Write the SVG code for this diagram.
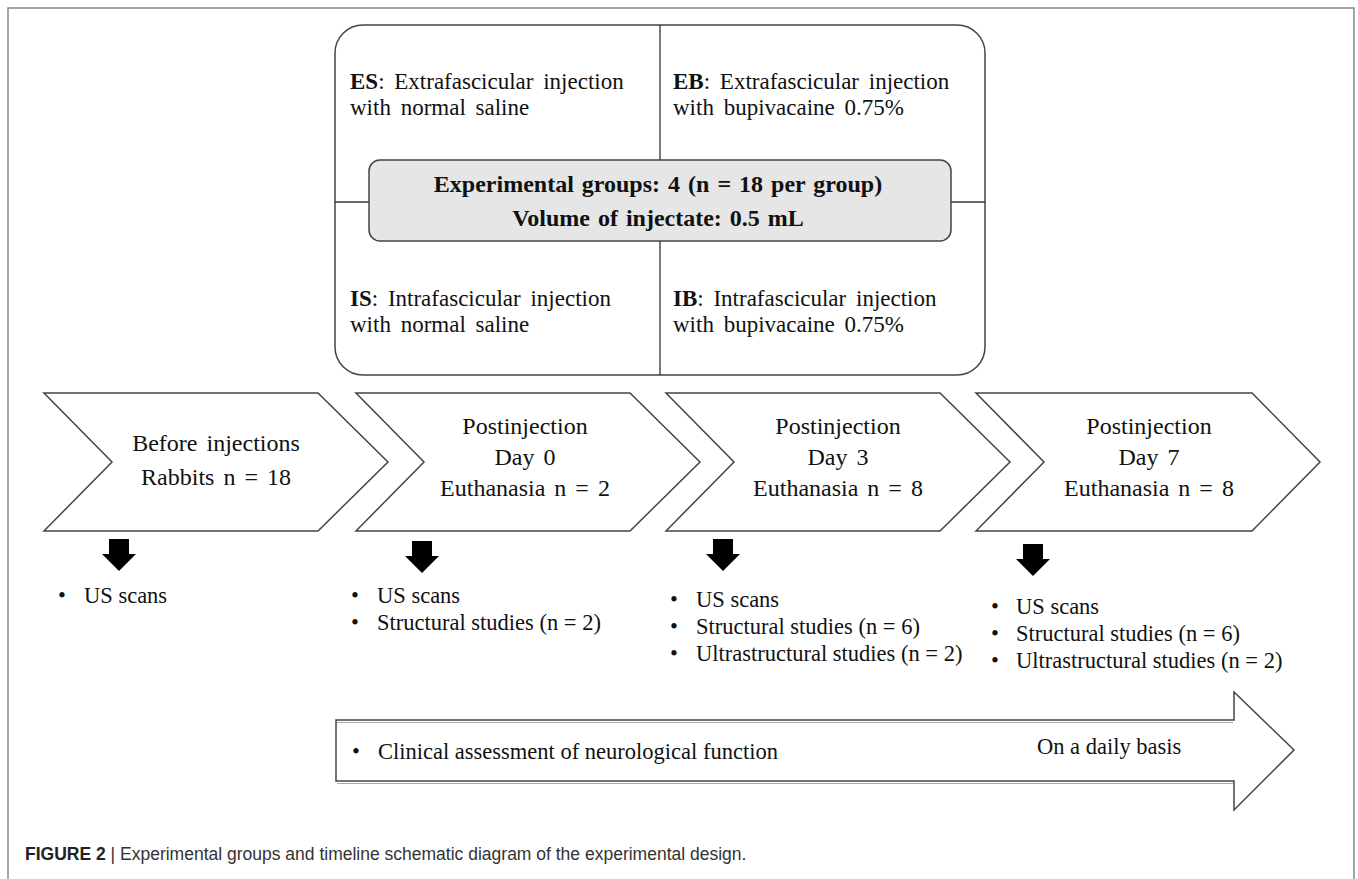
<svg xmlns="http://www.w3.org/2000/svg" width="1358" height="879" viewBox="0 0 1358 879">
<style>
.t{font-family:"Liberation Serif","Times New Roman",serif;fill:#111;}
.box{font-size:23px;word-spacing:4px;}
.ctr{font-size:24px;font-weight:bold;word-spacing:2px;}
.chev{font-size:24px;word-spacing:3px;}
.li{font-size:22.5px;}
.b{font-weight:bold;}
.shape{fill:#fff;stroke:#444;stroke-width:1.5;}
.line{stroke:#333;stroke-width:1.3;fill:none;}
.cap{font-family:"Liberation Sans",Arial,sans-serif;font-size:17.5px;fill:#333;}
</style>
<defs>
<path id="down" d="M-10,0 H10 V15 H17 L0,32 L-17,15 H-10 Z" fill="#000"/>
</defs>
<rect width="1358" height="879" fill="#fff"/>
<path d="M8,879 V8 H1354 V879" fill="none" stroke="#888" stroke-width="1.5"/>

<g id="groups">
<rect x="335" y="25" width="650" height="350" rx="28" class="shape"/>
<line x1="660" y1="25" x2="660" y2="375" class="line"/>
<line x1="335" y1="202" x2="985" y2="202" class="line"/>
<g id="es"><text class="t box" x="350" y="89"><tspan class="b">ES</tspan>: Extrafascicular injection</text><text class="t box" x="350" y="115">with normal saline</text></g>
<g id="eb"><text class="t box" x="673" y="89"><tspan class="b">EB</tspan>: Extrafascicular injection</text><text class="t box" x="673" y="115">with bupivacaine 0.75%</text></g>
<g id="is"><text class="t box" x="350" y="306"><tspan class="b">IS</tspan>: Intrafascicular injection</text><text class="t box" x="350" y="332">with normal saline</text></g>
<g id="ib"><text class="t box" x="673" y="306"><tspan class="b">IB</tspan>: Intrafascicular injection</text><text class="t box" x="673" y="332">with bupivacaine 0.75%</text></g>
<g id="center">
<rect x="369" y="160" width="582" height="81" rx="11" fill="#e6e6e6" stroke="#444" stroke-width="1.5"/>
<text class="t ctr" x="658" y="192" text-anchor="middle">Experimental groups: 4 (n  = 18 per group)</text>
<text class="t ctr" x="658" y="226" text-anchor="middle">Volume of injectate: 0.5 mL</text>
</g>
</g>

<g id="stage1">
<polygon class="shape" points="44,393 318,393 388,462 318,531 44,531 112,462"/>
<text class="t chev" x="216" y="451" text-anchor="middle">Before injections</text>
<text class="t chev" x="216" y="485" text-anchor="middle">Rabbits n = 18</text>
</g>
<g id="stage2">
<polygon class="shape" points="356,393 630,393 700,462 630,531 356,531 424,462"/>
<text class="t chev" x="525" y="434" text-anchor="middle">Postinjection</text>
<text class="t chev" x="525" y="465" text-anchor="middle">Day 0</text>
<text class="t chev" x="525" y="496" text-anchor="middle">Euthanasia n = 2</text>
</g>
<g id="stage3">
<polygon class="shape" points="666,393 940,393 1010,462 940,531 666,531 734,462"/>
<text class="t chev" x="838" y="434" text-anchor="middle">Postinjection</text>
<text class="t chev" x="838" y="465" text-anchor="middle">Day 3</text>
<text class="t chev" x="838" y="496" text-anchor="middle">Euthanasia n = 8</text>
</g>
<g id="stage4">
<polygon class="shape" points="976,393 1252,393 1320,462 1252,531 976,531 1044,462"/>
<text class="t chev" x="1149" y="434" text-anchor="middle">Postinjection</text>
<text class="t chev" x="1149" y="465" text-anchor="middle">Day 7</text>
<text class="t chev" x="1149" y="496" text-anchor="middle">Euthanasia n = 8</text>
</g>

<g id="connectors">
<use href="#down" x="119" y="539"/>
<use href="#down" x="422" y="541"/>
<use href="#down" x="723" y="539"/>
<use href="#down" x="1033" y="544"/>
</g>

<g id="list1">
<text class="t li" x="58" y="603">•</text><text class="t li" x="84" y="603">US scans</text>
</g>
<g id="list2">
<text class="t li" x="351" y="603">•</text><text class="t li" x="377" y="603">US scans</text>
<text class="t li" x="351" y="630">•</text><text class="t li" x="377" y="630">Structural studies (n = 2)</text>
</g>
<g id="list3">
<text class="t li" x="670" y="607">•</text><text class="t li" x="696" y="607">US scans</text>
<text class="t li" x="670" y="634">•</text><text class="t li" x="696" y="634">Structural studies (n = 6)</text>
<text class="t li" x="670" y="661">•</text><text class="t li" x="696" y="661">Ultrastructural studies (n = 2)</text>
</g>
<g id="list4">
<text class="t li" x="991" y="614">•</text><text class="t li" x="1016" y="614">US scans</text>
<text class="t li" x="991" y="641">•</text><text class="t li" x="1016" y="641">Structural studies (n = 6)</text>
<text class="t li" x="991" y="668">•</text><text class="t li" x="1016" y="668">Ultrastructural studies (n = 2)</text>
</g>

<g id="daily">
<polygon class="shape" points="336,720 1234,720 1234,692 1294,750 1234,810 1234,781 336,781"/>
<line x1="337" y1="722.5" x2="1233" y2="722.5" stroke="#aaa" stroke-width="1"/>
<line x1="337" y1="783.5" x2="1233" y2="783.5" stroke="#aaa" stroke-width="1"/>
<text class="t li" x="352" y="759">•</text>
<text class="t li" x="378" y="759">Clinical assessment of neurological function</text>
<text class="t li" x="1037" y="754">On a daily basis</text>
</g>

<text class="cap" x="25" y="860"><tspan font-weight="bold" fill="#222">FIGURE 2</tspan> | Experimental groups and timeline schematic diagram of the experimental design.</text>
</svg>
